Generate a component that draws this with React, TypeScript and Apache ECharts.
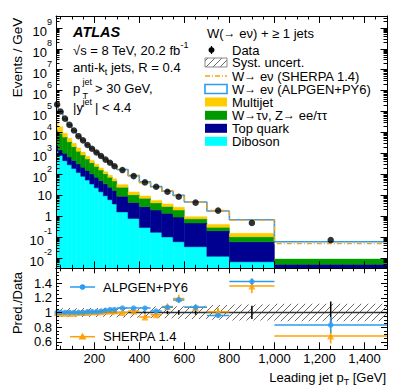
import React, { useEffect, useRef } from "react";
import * as echarts from "echarts";

// ---------------- data ----------------
const binEdges = [30, 40, 60, 80, 100, 120, 140, 160, 180, 200, 220, 240, 260, 280, 300, 350, 400, 450, 500, 550, 600, 700, 800, 1000, 1500];
// Events / GeV
const dataValues = [218800, 100000, 45700, 22900, 12300, 6610, 4170, 2510, 1660, 1100, 741, 501, 355, 240, 158, 81.3, 40.7, 25.1, 14.5, 8.32, 4.37, 1.82, 0.468, 0.0708];
const dibosonValues = [1260, 794, 447, 282, 186, 120, 79.4, 52.5, 33.9, 22.4, 14.5, 9.33, 6.03, 3.8, 1.58, 0.76, 0.28, 0.166, 0.1, 0.059, 0.034, 0.0118, 0.0065, 0.002];
const topQuarkValues = [1250, 651, 553, 379, 271, 196, 139, 98.9, 70.8, 50, 35.6, 25.4, 18, 12.8, 7.33, 3.71, 2.54, 1.78, 1.25, 0.83, 0.434, 0.188, 0.0524, 0.0029];
const wTauZValues = [10400, 7675, 5026, 2970, 1632, 943, 613, 386, 250, 162, 108, 70, 46.8, 31.3, 15.1, 6.0, 4.26, 2.32, 1.53, 1.06, 0.273, 0.089, 0.0433, 0.0038];
const multijetValues = [18700, 9500, 3094, 1617, 931, 561, 316, 187, 102, 68, 41.5, 27.1, 18.3, 12.4, 7.6, 3.6, 2.04, 1.35, 0.92, 0.68, 0.192, 0.11, 0.046, 0];
// Pred./Data
const ratioAlpgen = [1.0, 1.0, 1.0, 1.0, 1.0, 1.0, 1.0, 1.01, 1.01, 1.01, 1.02, 1.03, 1.04, 1.04, 1.06, 1.06, 1.06, 1.02, 1.07, 1.17, 1.07, 0.96, 1.42, 0.83];
const ratioAlpgenErr = [0.003, 0.003, 0.003, 0.003, 0.003, 0.003, 0.004, 0.004, 0.005, 0.005, 0.006, 0.006, 0.007, 0.008, 0.01, 0.012, 0.015, 0.015, 0.02, 0.04, 0.03, 0.03, 0.04, 0.11];
const ratioSherpa = [1.0, 0.99, 0.99, 0.99, 0.99, 1.0, 1.0, 1.0, 1.01, 1.01, 1.01, 1.02, 1.02, 1.02, 1.0, 1.02, 0.94, 0.97, 1.08, 1.19, 1.07, 1.01, 1.36, 0.68];
const ratioSherpaErr = [0.005, 0.005, 0.005, 0.005, 0.006, 0.006, 0.007, 0.008, 0.009, 0.01, 0.012, 0.013, 0.015, 0.016, 0.015, 0.02, 0.03, 0.03, 0.04, 0.05, 0.04, 0.05, 0.1, 0.1];
const dataStatErr = [0.002, 0.002, 0.002, 0.002, 0.002, 0.003, 0.003, 0.003, 0.004, 0.004, 0.005, 0.005, 0.006, 0.007, 0.008, 0.01, 0.015, 0.02, 0.025, 0.03, 0.03, 0.045, 0.09, 0.15];
const systErr = [0.07, 0.06, 0.06, 0.06, 0.06, 0.06, 0.06, 0.06, 0.06, 0.06, 0.06, 0.06, 0.065, 0.065, 0.07, 0.07, 0.075, 0.08, 0.08, 0.085, 0.09, 0.1, 0.11, 0.12];
// tick labels
const xTickLabels = [200, 400, 600, 800, 1000, 1200, 1400];
const mainDecades = [-2, -1, 0, 1, 2, 3, 4, 5, 6, 7, 8, 9];
const ratioTickLabels = [0.6, 0.8, 1, 1.2, 1.4];

// ---------------- style constants ----------------
const FONT = "'Liberation Sans', Arial, Helvetica, sans-serif";
const X_MIN = 30, X_MAX = 1500;
const Y_MIN = -2.5, Y_MAX = 9.57;
const R_MIN = 0.5, R_MAX = 1.6;
const C_CYAN = "#00ffff", C_NAVY = "#000090", C_GREEN = "#009a00", C_YELLOW = "#ffcc00";
const C_BLUE = "#2b9cf0", C_ORANGE = "#ffa000";
const stackColors = [C_CYAN, C_NAVY, C_GREEN, C_YELLOW];

function makeHatch(): HTMLCanvasElement {
  const c = document.createElement("canvas");
  const s = 7;
  c.width = s; c.height = s;
  const ctx = c.getContext("2d")!;
  ctx.strokeStyle = "#6a6a6a";
  ctx.lineWidth = 1;
  ctx.beginPath();
  ctx.moveTo(-1, s + 1); ctx.lineTo(s + 1, -1);
  ctx.moveTo(-1, 1); ctx.lineTo(1, -1);
  ctx.moveTo(s - 1, s + 1); ctx.lineTo(s + 1, s - 1);
  ctx.stroke();
  return c;
}

const richStyles = {
  n: { fontSize: 13, lineHeight: 12, fontFamily: FONT, fill: "#000" },
  ar: { fontSize: 12, lineHeight: 12, fontFamily: FONT, fill: "#000" },
  sup: { fontSize: 9, lineHeight: 9, padding: [0, 0, 10, 0], fontFamily: FONT, fill: "#000" },
  sub: { fontSize: 9, lineHeight: 9, padding: [10, 0, 0, 0], fontFamily: FONT, fill: "#000" },
};

function buildOption() {
  const lg = Math.log10;
  const nB = binEdges.length - 1;
  const centers = binEdges.slice(0, -1).map((e, i) => (e + binEdges[i + 1]) / 2);
  const hatch = makeHatch();

  const stackRows = centers.map((_, i) => {
    let c = 0;
    const cums = [dibosonValues, topQuarkValues, wTauZValues, multijetValues].map((arr) => {
      c += arr[i];
      return lg(c);
    });
    return [binEdges[i], binEdges[i + 1], ...cums];
  });
  const alpgenTotal = dataValues.map((d, i) => d * ratioAlpgen[i]);
  const sherpaTotal = dataValues.map((d, i) => d * ratioSherpa[i]);
  const stepData = (tot: number[]) => binEdges.map((e, i) => [e, lg(tot[Math.min(i, nB - 1)])]);

  // tick positions
  const xMinor: number[] = [];
  for (let v = 50; v < 1500; v += 50) if (v % 200 !== 0) xMinor.push(v);
  const yMinor: number[] = [];
  for (let n = -3; n <= 9; n++) for (let k = 2; k <= 9; k++) {
    const v = n + lg(k);
    if (v > Y_MIN && v < Y_MAX) yMinor.push(v);
  }
  const rMinor: number[] = [];
  for (let k = 11; k <= 31; k++) if (k % 4 !== 0) rMinor.push(Math.round(k * 5) / 100);

  const xAx = (grid: number, pos: string, ticks: number[], len: number, line: boolean, labels?: number[]) => ({
    type: "value", gridIndex: grid, position: pos, min: X_MIN, max: X_MAX, z: 10,
    axisLine: { show: line, onZero: false, lineStyle: { color: "#000", width: 1 } },
    axisTick: { show: true, inside: true, length: len, customValues: ticks, lineStyle: { color: "#000", width: 1 } },
    axisLabel: labels
      ? { show: true, customValues: labels, fontSize: 13, color: "#000", fontFamily: FONT, margin: 3 }
      : { show: false },
    splitLine: { show: false },
  });
  const yAx = (grid: number, pos: string, min: number, max: number, ticks: number[], len: number, line: boolean, label?: any) => ({
    type: "value", gridIndex: grid, position: pos, min, max, z: 10,
    axisLine: { show: line, onZero: false, lineStyle: { color: "#000", width: 1 } },
    axisTick: { show: true, inside: true, length: len, customValues: ticks, lineStyle: { color: "#000", width: 1 } },
    axisLabel: label ? label : { show: false },
    splitLine: { show: false },
  });

  const mainLabel = {
    show: true, customValues: mainDecades, fontSize: 13, color: "#000", fontFamily: FONT, margin: 4,
    formatter: (v: number) => {
      const r = Math.round(v);
      if (r === 0) return "1";
      if (r === 1) return "10";
      return "{b|10}{sup|" + String(r) + "}";
    },
    rich: {
      b: { fontSize: 13, lineHeight: 13, padding: [7, 0, 0, 0], fontFamily: FONT, color: "#000" },
      sup: { fontSize: 9, lineHeight: 9, padding: [0, 0, 11, 0], fontFamily: FONT, color: "#000" },
    },
  };
  const ratioLabel = {
    show: true, customValues: ratioTickLabels, fontSize: 13, color: "#000", fontFamily: FONT, margin: 4,
    formatter: (v: number) => String(Number(v.toFixed(1))),
  };

  const errRender = (color: string) => (params: any, api: any) => {
    const lo = api.value(0), hi = api.value(1), r = api.value(2), e = api.value(3);
    const mid = (lo + hi) / 2;
    const a = api.coord([lo, r]), b = api.coord([hi, r]);
    const c = api.coord([mid, r - e]), d = api.coord([mid, r + e]);
    return {
      type: "group",
      children: [
        { type: "line", shape: { x1: a[0], y1: a[1], x2: b[0], y2: b[1] }, style: { stroke: color, lineWidth: 1.5 } },
        { type: "line", shape: { x1: c[0], y1: c[1], x2: d[0], y2: d[1] }, style: { stroke: color, lineWidth: 1.5 } },
      ],
    };
  };

  const legendRows = [50, 62.5, 76, 89, 102, 115.3, 128.3, 141.3];
  const legX = 205, legW = 22, legH = 9, legTX = 232;
  const txt = (x: number, y: number, text: string, extra: any = {}) => ({
    type: "text", x, y, z: 50,
    style: { text, fontSize: 13, lineHeight: 12, fontFamily: FONT, fill: "#000", align: "left", verticalAlign: "middle", rich: richStyles, ...extra },
  });
  const small = (x: number, y: number, text: string) => ({
    type: "text", x, y, z: 50,
    style: { text, fontSize: 9, lineHeight: 7, fontFamily: FONT, fill: "#000", align: "left", verticalAlign: "middle" },
  });
  const box = (row: number, fill: any, stroke?: string, lw = 1) => ({
    type: "rect", z: 50,
    shape: { x: legX, y: legendRows[row] - legH / 2, width: legW, height: legH },
    style: { fill, stroke: stroke || "none", lineWidth: lw },
  });

  const graphic: any[] = [
    { type: "text", x: 17, y: 57.5, rotation: Math.PI / 2, z: 50,
      style: { text: "Events / GeV", fontSize: 13.5, fontFamily: FONT, fill: "#000", align: "center", verticalAlign: "middle" } },
    { type: "text", x: 17, y: 303, rotation: Math.PI / 2, z: 50,
      style: { text: "Pred./Data", fontSize: 13, fontFamily: FONT, fill: "#000", align: "center", verticalAlign: "middle" } },
    txt(386, 377, "{n|Leading jet p}{sub|T}{n| [GeV]}", { align: "right" }),
    { type: "text", x: 73, y: 32, z: 50,
      style: { text: "ATLAS", fontSize: 14.5, fontWeight: "bold", fontStyle: "italic", fontFamily: FONT, fill: "#000", align: "left", verticalAlign: "middle" } },
    txt(73, 50, "{n|√s = 8 TeV, 20.2 fb}{sup|-1}"),
    txt(73, 67, "{n|anti-k}{sub|t}{n| jets, R = 0.4}"),
    txt(73, 88, "p"),
    small(82.5, 81.5, "jet"),
    small(82.5, 96, "T"),
    txt(95, 88, "> 30 GeV,"),
    txt(73, 107.5, "|y"),
    small(82.5, 102, "jet"),
    txt(95, 107.5, "| < 4.4"),
    // main legend
    txt(207, 33, "{n|W(}{ar|→}{n| eν) + ≥ 1 jets}"),
    { type: "line", z: 50, shape: { x1: legX + legW / 2 - 4.5, y1: legendRows[0] - 4, x2: legX + legW / 2 - 4.5, y2: legendRows[0] + 4 }, style: { stroke: "#000", lineWidth: 1.2 } },
    { type: "circle", z: 50, shape: { cx: legX + legW / 2 - 4.5, cy: legendRows[0], r: 3 }, style: { fill: "#000" } },
    txt(legTX, legendRows[0], "Data"),
    box(1, { image: hatch, repeat: "repeat" }, "#8a8a8a", 1),
    txt(legTX, legendRows[1], "Syst. uncert."),
    { type: "line", z: 50, shape: { x1: legX, y1: legendRows[2], x2: legX + legW, y2: legendRows[2] }, style: { stroke: C_ORANGE, lineWidth: 1.3, lineDash: [5, 2, 1, 2] } },
    txt(legTX, legendRows[2], "{n|W}{ar|→}{n| eν (SHERPA 1.4)}"),
    box(3, "#fff", C_BLUE, 1.6),
    txt(legTX, legendRows[3], "{n|W}{ar|→}{n| eν (ALPGEN+PY6)}"),
    box(4, C_YELLOW),
    txt(legTX, legendRows[4], "Multijet"),
    box(5, C_GREEN),
    txt(legTX, legendRows[5], "{n|W}{ar|→}{n|τν, Z}{ar|→}{n| ee/ττ}"),
    box(6, C_NAVY),
    txt(legTX, legendRows[6], "Top quark"),
    box(7, C_CYAN),
    txt(legTX, legendRows[7], "Diboson"),
    // ratio legend
    { type: "line", z: 50, shape: { x1: 70, y1: 287, x2: 95, y2: 287 }, style: { stroke: C_BLUE, lineWidth: 1.5 } },
    { type: "circle", z: 50, shape: { cx: 82.5, cy: 287, r: 2.8 }, style: { fill: C_BLUE } },
    txt(103, 287, "ALPGEN+PY6"),
    { type: "line", z: 50, shape: { x1: 70, y1: 336.7, x2: 95, y2: 336.7 }, style: { stroke: C_ORANGE, lineWidth: 1.5 } },
    { type: "polygon", z: 50, shape: { points: [[82.5, 332.7], [78.5, 339.5], [86.5, 339.5]] }, style: { fill: C_ORANGE } },
    txt(103, 336.7, "SHERPA 1.4"),
  ];

  return {
    animation: false,
    backgroundColor: "#fff",
    textStyle: { fontFamily: FONT },
    grid: [
      { left: 56, top: 16, width: 331, height: 252.3, show: false },
      { left: 56, top: 268.3, width: 331, height: 81, show: false },
    ],
    xAxis: [
      xAx(0, "bottom", xTickLabels, 7, true),
      xAx(0, "bottom", xMinor, 3.5, false),
      xAx(0, "top", xTickLabels, 7, true),
      xAx(0, "top", xMinor, 3.5, false),
      xAx(1, "bottom", xTickLabels, 7, true, xTickLabels),
      xAx(1, "bottom", xMinor, 3.5, false),
      xAx(1, "top", xTickLabels, 5, true),
      xAx(1, "top", xMinor, 3, false),
    ],
    yAxis: [
      yAx(0, "left", Y_MIN, Y_MAX, mainDecades, 6.5, true, mainLabel),
      yAx(0, "left", Y_MIN, Y_MAX, yMinor, 3.5, false),
      yAx(0, "right", Y_MIN, Y_MAX, mainDecades, 6.5, true),
      yAx(0, "right", Y_MIN, Y_MAX, yMinor, 3.5, false),
      yAx(1, "left", R_MIN, R_MAX, ratioTickLabels, 6, true, ratioLabel),
      yAx(1, "left", R_MIN, R_MAX, rMinor, 3, false),
      yAx(1, "right", R_MIN, R_MAX, ratioTickLabels, 6, true),
      yAx(1, "right", R_MIN, R_MAX, rMinor, 3, false),
    ],
    series: [
      {
        type: "custom", name: "stack", xAxisIndex: 0, yAxisIndex: 0, clip: true, z: 2,
        data: stackRows,
        encode: { x: [0, 1], y: [2, 3, 4, 5] },
        renderItem: (params: any, api: any) => {
          const lo = api.value(0), hi = api.value(1);
          let prev = Y_MIN;
          const children: any[] = [];
          for (let k = 0; k < 4; k++) {
            const v = api.value(2 + k);
            if (!(v > prev)) continue;
            const p1 = api.coord([lo, Math.min(v, Y_MAX)]);
            const p2 = api.coord([hi, prev]);
            children.push({
              type: "rect",
              shape: { x: p1[0], y: p1[1], width: p2[0] - p1[0], height: p2[1] - p1[1] },
              style: { fill: stackColors[k], stroke: stackColors[k], lineWidth: 0.5 },
            });
            prev = v;
          }
          return { type: "group", children };
        },
      },
      {
        type: "line", name: "ALPGEN", xAxisIndex: 0, yAxisIndex: 0, step: "end", symbol: "none", z: 3,
        data: stepData(alpgenTotal), lineStyle: { color: C_BLUE, width: 1.6 },
      },
      {
        type: "line", name: "SHERPA", xAxisIndex: 0, yAxisIndex: 0, step: "end", symbol: "none", z: 4,
        data: stepData(sherpaTotal), lineStyle: { color: C_ORANGE, width: 1.3, type: [5, 2, 1, 2] },
      },
      {
        type: "scatter", name: "Data", xAxisIndex: 0, yAxisIndex: 0, z: 5,
        data: centers.map((c, i) => [c, lg(dataValues[i])]),
        symbol: "circle", symbolSize: 6.5, itemStyle: { color: "#000" },
      },
      // ratio panel
      {
        type: "custom", name: "syst", xAxisIndex: 4, yAxisIndex: 4, clip: true, z: 2,
        data: centers.map((_, i) => [binEdges[i], binEdges[i + 1], 1 - systErr[i], 1 + systErr[i]]),
        encode: { x: [0, 1], y: [2, 3] },
        renderItem: (params: any, api: any) => {
          const p1 = api.coord([api.value(0), api.value(3)]);
          const p2 = api.coord([api.value(1), api.value(2)]);
          return {
            type: "rect",
            shape: { x: p1[0], y: p1[1], width: p2[0] - p1[0], height: p2[1] - p1[1] },
            style: { fill: { image: hatch, repeat: "repeat" }, stroke: "none" },
          };
        },
      },
      {
        type: "line", name: "unity", xAxisIndex: 4, yAxisIndex: 4, symbol: "none", z: 3,
        data: [[X_MIN, 1], [X_MAX, 1]], lineStyle: { color: "#333", width: 1.5 },
      },
      {
        type: "custom", name: "dataStat", xAxisIndex: 4, yAxisIndex: 4, clip: true, z: 4,
        data: centers.map((c, i) => [c, 1 - dataStatErr[i], 1 + dataStatErr[i]]),
        encode: { x: 0, y: [1, 2] },
        renderItem: (params: any, api: any) => {
          const a = api.coord([api.value(0), api.value(1)]);
          const b = api.coord([api.value(0), api.value(2)]);
          return { type: "line", shape: { x1: a[0], y1: a[1], x2: b[0], y2: b[1] }, style: { stroke: "#000", lineWidth: 1.5 } };
        },
      },
      {
        type: "custom", name: "sherpaErr", xAxisIndex: 4, yAxisIndex: 4, clip: true, z: 5,
        data: centers.map((_, i) => [binEdges[i], binEdges[i + 1], ratioSherpa[i], ratioSherpaErr[i]]),
        encode: { x: [0, 1], y: 2 },
        renderItem: errRender(C_ORANGE),
      },
      {
        type: "scatter", name: "sherpaPts", xAxisIndex: 4, yAxisIndex: 4, z: 6,
        data: centers.map((c, i) => [c, ratioSherpa[i]]),
        symbol: "triangle", symbolSize: 7, itemStyle: { color: C_ORANGE },
      },
      {
        type: "custom", name: "alpgenErr", xAxisIndex: 4, yAxisIndex: 4, clip: true, z: 7,
        data: centers.map((_, i) => [binEdges[i], binEdges[i + 1], ratioAlpgen[i], ratioAlpgenErr[i]]),
        encode: { x: [0, 1], y: 2 },
        renderItem: errRender(C_BLUE),
      },
      {
        type: "scatter", name: "alpgenPts", xAxisIndex: 4, yAxisIndex: 4, z: 8,
        data: centers.map((c, i) => [c, ratioAlpgen[i]]),
        symbol: "circle", symbolSize: 5.5, itemStyle: { color: C_BLUE },
      },
    ],
    graphic,
  };
}

export default function App() {
  const ref = useRef<HTMLDivElement>(null);
  useEffect(() => {
    document.body.style.margin = "0";
    const chart = echarts.init(ref.current!, null, { renderer: "svg" });
    chart.setOption(buildOption() as any);
    return () => chart.dispose();
  }, []);
  return <div ref={ref} style={{ width: 407, height: 391, background: "#fff" }} />;
}
